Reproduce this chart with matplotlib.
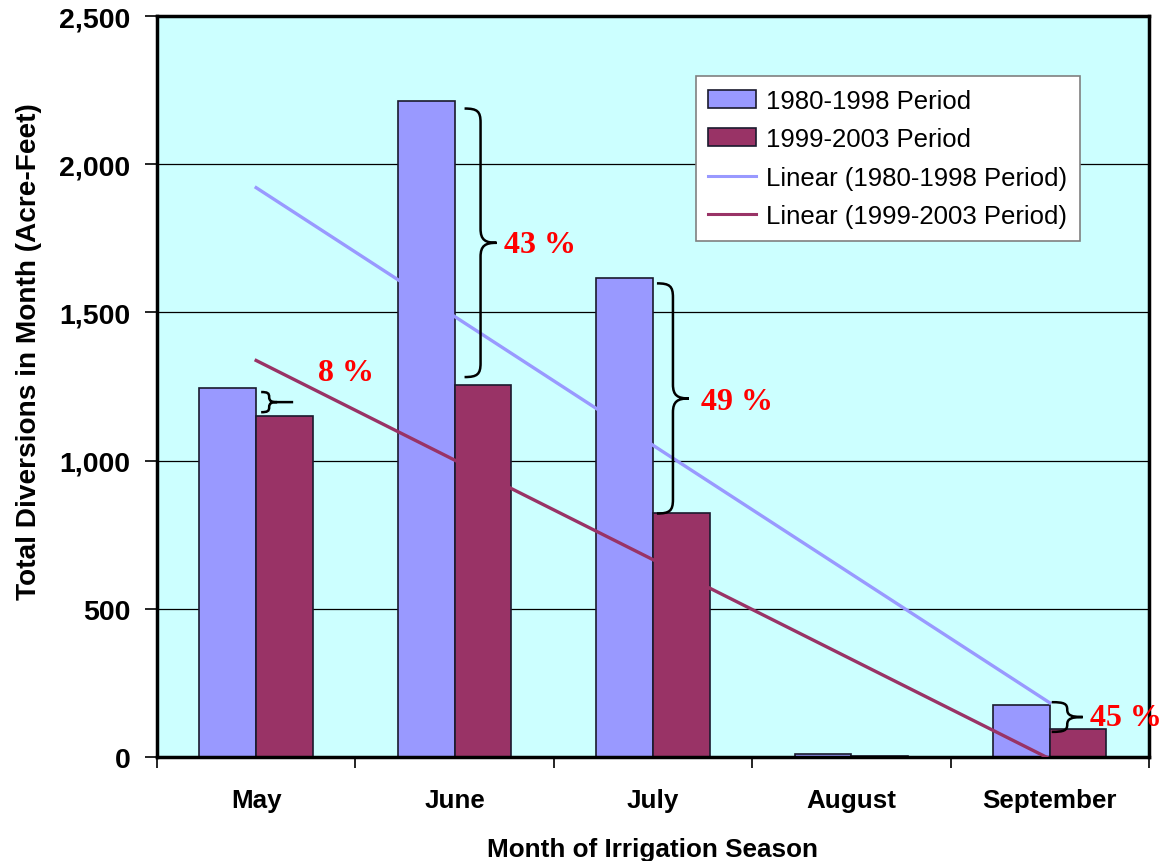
import numpy as np
import matplotlib.pyplot as plt
from matplotlib.path import Path
from matplotlib.patches import PathPatch
from matplotlib.ticker import FuncFormatter

# data
months = ['May', 'June', 'July', 'August', 'September']
period_1980_1998 = [1245, 2215, 1615, 10, 175]
period_1999_2003 = [1150, 1255, 825, 5, 95]
pct_labels = ['8 %', '43 %', '49 %', None, '45 %']

light = '#9999FF'
dark = '#993366'

plt.rcParams['font.family'] = ['Liberation Sans', 'DejaVu Sans']

fig = plt.figure(figsize=(11.61, 8.62), dpi=100)
ax = fig.add_axes([0.1352, 0.1206, 0.8544, 0.8596])
ax.set_facecolor('#CCFFFF')

x = np.arange(len(months))
w = 1 / 3.5
b1 = ax.bar(x - w / 2, period_1980_1998, w, color=light, edgecolor='#1a1a2e',
            linewidth=1.2, label='1980-1998 Period', zorder=2)
b2 = ax.bar(x + w / 2, period_1999_2003, w, color=dark, edgecolor='#1a1a2e',
            linewidth=1.2, label='1999-2003 Period', zorder=2)

# linear trend lines (least squares, like Excel)
xs = x + 1
lines = []
for vals, c, lab in [(period_1980_1998, light, 'Linear (1980-1998 Period)'),
                     (period_1999_2003, dark, 'Linear (1999-2003 Period)')]:
    k, b = np.polyfit(xs, vals, 1)
    ln, = ax.plot(x, k * xs + b, color=c, lw=2.4, label=lab, zorder=3)
    lines.append(ln)

ax.set_xlim(-0.5, 4.5)
ax.set_ylim(0, 2500)
ax.set_yticks(np.arange(0, 2501, 500))
ax.yaxis.set_major_formatter(FuncFormatter(lambda v, p: f'{int(v):,}'))
ax.set_xticks(x)
ax.set_xticklabels(months, fontsize=18.7, fontweight='bold')
ax.set_xticks(np.arange(-0.5, 5, 1), minor=True)
ax.tick_params(axis='x', which='major', length=0, pad=22)
ax.tick_params(axis='x', which='minor', length=8, width=1.2, direction='out')
ax.tick_params(axis='y', length=9, width=1.2, direction='out', labelsize=20.5, pad=10)
for t in ax.get_yticklabels():
    t.set_fontweight('bold')
ax.grid(axis='y', color='black', lw=0.9, zorder=1)
ax.set_axisbelow(True)
for s in ax.spines.values():
    s.set_linewidth(2.5)
    s.set_color('black')

ax.set_xlabel('Month of Irrigation Season', fontsize=18.8, fontweight='bold', labelpad=18)
ax.set_ylabel('Total Diversions in Month (Acre-Feet)', fontsize=20.2, fontweight='bold')
ax.yaxis.set_label_coords(-0.116, 0.548)

leg = ax.legend([b1, b2] + lines, [b1.get_label(), b2.get_label()] + [l.get_label() for l in lines],
                loc='upper left', bbox_to_anchor=(0.543, 0.919), fontsize=18.5,
                frameon=True, fancybox=False, edgecolor='#808080', framealpha=1,
                handlelength=1.85, handletextpad=0.4, labelspacing=0.56,
                borderpad=0.5, borderaxespad=0)
leg.get_frame().set_linewidth(1.2)
for h in leg.legend_handles[2:]:
    h.set_linewidth(2.2)

# curly braces between the two periods
px = 1 / 198.4        # data units per pixel in x
py = 2500 / 741       # data units per pixel in y


def brace(x0, ytop, ybot, width, stem=0):
    ymid = (ytop + ybot) / 2
    x1 = x0 + width / 2
    x2 = x0 + width
    r = min(14 * py, (ytop - ybot) / 4)
    verts = [(x0, ytop),
             (x0 + width * 0.4, ytop), (x1, ytop - r * 0.2), (x1, ytop - r),
             (x1, ymid + r),
             (x1, ymid + r * 0.2), (x1 + width * 0.15, ymid), (x2, ymid),
             (x1 + width * 0.15, ymid), (x1, ymid - r * 0.2), (x1, ymid - r),
             (x1, ybot + r),
             (x1, ybot + r * 0.2), (x0 + width * 0.4, ybot), (x0, ybot)]
    codes = [Path.MOVETO] + [Path.CURVE4] * 3 + [Path.LINETO] + [Path.CURVE4] * 6 \
        + [Path.LINETO] + [Path.CURVE4] * 3
    if stem:
        verts += [(x2, ymid), (x2 + stem, ymid)]
        codes += [Path.MOVETO, Path.LINETO]
    ax.add_patch(PathPatch(Path(verts, codes), fill=False, lw=1.8,
                           edgecolor='black', zorder=4, clip_on=False))


# (x offset px, width px, stem px, top gap px, bottom gap px)
brace_specs = {0: (5, 16, 16, 4, 4), 1: (10, 32, 0, 8, 8),
               2: (4, 32, 0, 5, -1), 4: (2, 31, 0, -3, -3)}
text_pos = {0: (318, 373), 1: (504, 245), 2: (701, 402), 4: (1090, 718)}
for i, (dx, bw, stem, gt, gb) in brace_specs.items():
    ytop = period_1980_1998[i] - gt * py
    ybot = period_1999_2003[i] + gb * py
    brace(x[i] + dx * px, ytop, ybot, bw * px, stem * px)
    tx, ty = text_pos[i]
    ax.text((tx - 157) * px - 0.5, (758 - ty) * py, pct_labels[i],
            color='#FF0000', fontsize=23, fontweight='bold',
            family=['Liberation Serif', 'DejaVu Serif'],
            va='center', ha='left', zorder=5, clip_on=False)

fig.savefig('out.png', dpi=100)
